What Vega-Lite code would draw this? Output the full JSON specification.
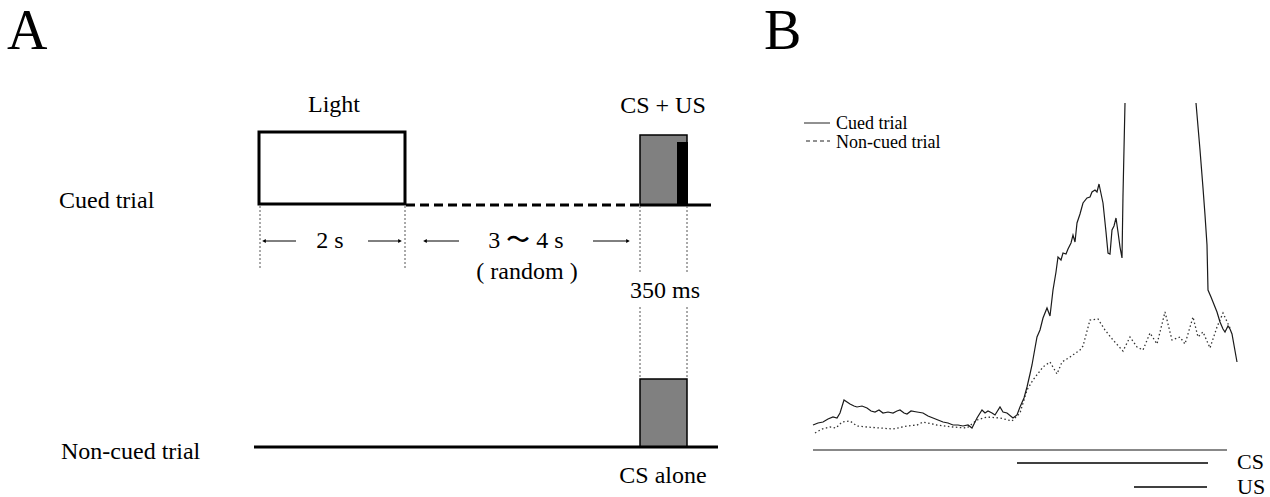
{
  "$schema": "https://vega.github.io/schema/vega-lite/v6.json",
  "width": 1270,
  "height": 497,
  "padding": 0,
  "autosize": {"type": "fit", "contains": "padding"},
  "background": "white",
  "config": {
    "view": {"stroke": null},
    "text": {"font": "Liberation Serif", "color": "black", "baseline": "alphabetic"}
  },
  "datasets": {
    "aRects": [
      {"item": "light", "x": 259, "x2": 405, "y": 132, "y2": 204},
      {"item": "cs", "x": 640, "x2": 687, "y": 135, "y2": 205},
      {"item": "cs", "x": 640, "x2": 687, "y": 379, "y2": 447},
      {"item": "us", "x": 677, "x2": 688, "y": 142, "y2": 205}
    ],
    "aLines": [
      {"kind": "baseline", "x": 640, "x2": 711, "y": 205, "y2": 205},
      {"kind": "baseline", "x": 254, "x2": 718, "y": 447, "y2": 447},
      {"kind": "gap", "x": 406, "x2": 640, "y": 205, "y2": 205},
      {"kind": "guide", "x": 260, "x2": 260, "y": 206, "y2": 268},
      {"kind": "guide", "x": 405, "x2": 405, "y": 206, "y2": 268},
      {"kind": "guide", "x": 640, "x2": 640, "y": 206, "y2": 273},
      {"kind": "guide", "x": 687, "x2": 687, "y": 206, "y2": 273},
      {"kind": "guide", "x": 640, "x2": 640, "y": 307, "y2": 379},
      {"kind": "guide", "x": 687, "x2": 687, "y": 307, "y2": 379},
      {"kind": "arrow", "x": 265, "x2": 296, "y": 241, "y2": 241},
      {"kind": "arrow", "x": 368, "x2": 399, "y": 241, "y2": 241},
      {"kind": "arrow", "x": 426, "x2": 459, "y": 241, "y2": 241},
      {"kind": "arrow", "x": 593, "x2": 627, "y": 241, "y2": 241}
    ],
    "aHeads": [
      {"dir": "left", "x": 264, "y": 241},
      {"dir": "right", "x": 400, "y": 241},
      {"dir": "left", "x": 425, "y": 241},
      {"dir": "right", "x": 628, "y": 241}
    ],
    "aText": [
      {"kind": "panel", "x": 7, "y": 49, "text": "A"},
      {"kind": "panel", "x": 764, "y": 49, "text": "B"},
      {"kind": "row", "x": 59, "y": 208, "text": "Cued trial"},
      {"kind": "row", "x": 61, "y": 459, "text": "Non-cued trial"},
      {"kind": "note", "x": 334, "y": 112, "text": "Light"},
      {"kind": "note", "x": 663, "y": 113, "text": "CS + US"},
      {"kind": "note", "x": 330, "y": 248, "text": "2 s"},
      {"kind": "note", "x": 526, "y": 248, "text": "3 〜 4 s"},
      {"kind": "note", "x": 527, "y": 279, "text": "( random )"},
      {"kind": "note", "x": 665, "y": 298, "text": "350 ms"},
      {"kind": "note", "x": 663, "y": 483, "text": "CS alone"}
    ],
    "traces": [
      {"trial": "Cued trial", "seg": 1, "t": -204, "a": 25},
      {"trial": "Cued trial", "seg": 1, "t": -199, "a": 27},
      {"trial": "Cued trial", "seg": 1, "t": -194, "a": 28},
      {"trial": "Cued trial", "seg": 1, "t": -189, "a": 31},
      {"trial": "Cued trial", "seg": 1, "t": -184, "a": 33},
      {"trial": "Cued trial", "seg": 1, "t": -180, "a": 32},
      {"trial": "Cued trial", "seg": 1, "t": -177, "a": 37},
      {"trial": "Cued trial", "seg": 1, "t": -173, "a": 50},
      {"trial": "Cued trial", "seg": 1, "t": -167, "a": 46},
      {"trial": "Cued trial", "seg": 1, "t": -163, "a": 44},
      {"trial": "Cued trial", "seg": 1, "t": -160, "a": 43},
      {"trial": "Cued trial", "seg": 1, "t": -155, "a": 44},
      {"trial": "Cued trial", "seg": 1, "t": -150, "a": 42},
      {"trial": "Cued trial", "seg": 1, "t": -146, "a": 39},
      {"trial": "Cued trial", "seg": 1, "t": -142, "a": 38},
      {"trial": "Cued trial", "seg": 1, "t": -138, "a": 40},
      {"trial": "Cued trial", "seg": 1, "t": -134, "a": 37},
      {"trial": "Cued trial", "seg": 1, "t": -129, "a": 38},
      {"trial": "Cued trial", "seg": 1, "t": -124, "a": 37},
      {"trial": "Cued trial", "seg": 1, "t": -120, "a": 39},
      {"trial": "Cued trial", "seg": 1, "t": -117, "a": 40},
      {"trial": "Cued trial", "seg": 1, "t": -113, "a": 37},
      {"trial": "Cued trial", "seg": 1, "t": -110, "a": 36},
      {"trial": "Cued trial", "seg": 1, "t": -106, "a": 39},
      {"trial": "Cued trial", "seg": 1, "t": -100, "a": 38},
      {"trial": "Cued trial", "seg": 1, "t": -94, "a": 37},
      {"trial": "Cued trial", "seg": 1, "t": -89, "a": 34},
      {"trial": "Cued trial", "seg": 1, "t": -84, "a": 32},
      {"trial": "Cued trial", "seg": 1, "t": -79, "a": 30},
      {"trial": "Cued trial", "seg": 1, "t": -74, "a": 28},
      {"trial": "Cued trial", "seg": 1, "t": -69, "a": 27},
      {"trial": "Cued trial", "seg": 1, "t": -64, "a": 25},
      {"trial": "Cued trial", "seg": 1, "t": -59, "a": 25},
      {"trial": "Cued trial", "seg": 1, "t": -54, "a": 24},
      {"trial": "Cued trial", "seg": 1, "t": -49, "a": 25},
      {"trial": "Cued trial", "seg": 1, "t": -45, "a": 22},
      {"trial": "Cued trial", "seg": 1, "t": -40, "a": 32},
      {"trial": "Cued trial", "seg": 1, "t": -35, "a": 40},
      {"trial": "Cued trial", "seg": 1, "t": -32, "a": 37},
      {"trial": "Cued trial", "seg": 1, "t": -29, "a": 39},
      {"trial": "Cued trial", "seg": 1, "t": -25, "a": 37},
      {"trial": "Cued trial", "seg": 1, "t": -22, "a": 35},
      {"trial": "Cued trial", "seg": 1, "t": -17, "a": 43},
      {"trial": "Cued trial", "seg": 1, "t": -14, "a": 38},
      {"trial": "Cued trial", "seg": 1, "t": -10, "a": 37},
      {"trial": "Cued trial", "seg": 1, "t": -4, "a": 32},
      {"trial": "Cued trial", "seg": 1, "t": 0, "a": 35},
      {"trial": "Cued trial", "seg": 1, "t": 3, "a": 43},
      {"trial": "Cued trial", "seg": 1, "t": 7, "a": 52},
      {"trial": "Cued trial", "seg": 1, "t": 10, "a": 63},
      {"trial": "Cued trial", "seg": 1, "t": 13, "a": 76},
      {"trial": "Cued trial", "seg": 1, "t": 15, "a": 85},
      {"trial": "Cued trial", "seg": 1, "t": 18, "a": 102},
      {"trial": "Cued trial", "seg": 1, "t": 20, "a": 113},
      {"trial": "Cued trial", "seg": 1, "t": 23, "a": 120},
      {"trial": "Cued trial", "seg": 1, "t": 26, "a": 132},
      {"trial": "Cued trial", "seg": 1, "t": 30, "a": 142},
      {"trial": "Cued trial", "seg": 1, "t": 33, "a": 134},
      {"trial": "Cued trial", "seg": 1, "t": 36, "a": 160},
      {"trial": "Cued trial", "seg": 1, "t": 39, "a": 178},
      {"trial": "Cued trial", "seg": 1, "t": 41, "a": 193},
      {"trial": "Cued trial", "seg": 1, "t": 44, "a": 190},
      {"trial": "Cued trial", "seg": 1, "t": 46, "a": 197},
      {"trial": "Cued trial", "seg": 1, "t": 49, "a": 196},
      {"trial": "Cued trial", "seg": 1, "t": 51, "a": 201},
      {"trial": "Cued trial", "seg": 1, "t": 54, "a": 207},
      {"trial": "Cued trial", "seg": 1, "t": 56, "a": 215},
      {"trial": "Cued trial", "seg": 1, "t": 58, "a": 208},
      {"trial": "Cued trial", "seg": 1, "t": 60, "a": 227},
      {"trial": "Cued trial", "seg": 1, "t": 63, "a": 236},
      {"trial": "Cued trial", "seg": 1, "t": 66, "a": 247},
      {"trial": "Cued trial", "seg": 1, "t": 70, "a": 252},
      {"trial": "Cued trial", "seg": 1, "t": 73, "a": 253},
      {"trial": "Cued trial", "seg": 1, "t": 75, "a": 258},
      {"trial": "Cued trial", "seg": 1, "t": 78, "a": 260},
      {"trial": "Cued trial", "seg": 1, "t": 80, "a": 258},
      {"trial": "Cued trial", "seg": 1, "t": 82, "a": 266},
      {"trial": "Cued trial", "seg": 1, "t": 86, "a": 247},
      {"trial": "Cued trial", "seg": 1, "t": 89, "a": 218},
      {"trial": "Cued trial", "seg": 1, "t": 91, "a": 197},
      {"trial": "Cued trial", "seg": 1, "t": 93, "a": 196},
      {"trial": "Cued trial", "seg": 1, "t": 95, "a": 220},
      {"trial": "Cued trial", "seg": 1, "t": 97, "a": 224},
      {"trial": "Cued trial", "seg": 1, "t": 99, "a": 232},
      {"trial": "Cued trial", "seg": 1, "t": 101, "a": 218},
      {"trial": "Cued trial", "seg": 1, "t": 103, "a": 203},
      {"trial": "Cued trial", "seg": 1, "t": 105, "a": 192},
      {"trial": "Cued trial", "seg": 1, "t": 106, "a": 255},
      {"trial": "Cued trial", "seg": 1, "t": 108, "a": 347},
      {"trial": "Cued trial", "seg": 2, "t": 179, "a": 347},
      {"trial": "Cued trial", "seg": 2, "t": 183, "a": 300},
      {"trial": "Cued trial", "seg": 2, "t": 186, "a": 262},
      {"trial": "Cued trial", "seg": 2, "t": 188, "a": 235},
      {"trial": "Cued trial", "seg": 2, "t": 190, "a": 205},
      {"trial": "Cued trial", "seg": 2, "t": 191, "a": 160},
      {"trial": "Cued trial", "seg": 2, "t": 194, "a": 153},
      {"trial": "Cued trial", "seg": 2, "t": 196, "a": 148},
      {"trial": "Cued trial", "seg": 2, "t": 200, "a": 138},
      {"trial": "Cued trial", "seg": 2, "t": 203, "a": 128},
      {"trial": "Cued trial", "seg": 2, "t": 206, "a": 121},
      {"trial": "Cued trial", "seg": 2, "t": 208, "a": 118},
      {"trial": "Cued trial", "seg": 2, "t": 211, "a": 124},
      {"trial": "Cued trial", "seg": 2, "t": 213, "a": 121},
      {"trial": "Cued trial", "seg": 2, "t": 215, "a": 116},
      {"trial": "Cued trial", "seg": 2, "t": 220, "a": 88},
      {"trial": "Non-cued trial", "seg": 3, "t": -202, "a": 17},
      {"trial": "Non-cued trial", "seg": 3, "t": -195, "a": 21},
      {"trial": "Non-cued trial", "seg": 3, "t": -187, "a": 23},
      {"trial": "Non-cued trial", "seg": 3, "t": -181, "a": 22},
      {"trial": "Non-cued trial", "seg": 3, "t": -175, "a": 28},
      {"trial": "Non-cued trial", "seg": 3, "t": -167, "a": 29},
      {"trial": "Non-cued trial", "seg": 3, "t": -160, "a": 24},
      {"trial": "Non-cued trial", "seg": 3, "t": -150, "a": 23},
      {"trial": "Non-cued trial", "seg": 3, "t": -137, "a": 22},
      {"trial": "Non-cued trial", "seg": 3, "t": -124, "a": 21},
      {"trial": "Non-cued trial", "seg": 3, "t": -110, "a": 24},
      {"trial": "Non-cued trial", "seg": 3, "t": -100, "a": 25},
      {"trial": "Non-cued trial", "seg": 3, "t": -94, "a": 28},
      {"trial": "Non-cued trial", "seg": 3, "t": -80, "a": 25},
      {"trial": "Non-cued trial", "seg": 3, "t": -64, "a": 23},
      {"trial": "Non-cued trial", "seg": 3, "t": -50, "a": 22},
      {"trial": "Non-cued trial", "seg": 3, "t": -40, "a": 30},
      {"trial": "Non-cued trial", "seg": 3, "t": -30, "a": 33},
      {"trial": "Non-cued trial", "seg": 3, "t": -17, "a": 32},
      {"trial": "Non-cued trial", "seg": 3, "t": -5, "a": 29},
      {"trial": "Non-cued trial", "seg": 3, "t": 3, "a": 37},
      {"trial": "Non-cued trial", "seg": 3, "t": 10, "a": 60},
      {"trial": "Non-cued trial", "seg": 3, "t": 16, "a": 70},
      {"trial": "Non-cued trial", "seg": 3, "t": 26, "a": 83},
      {"trial": "Non-cued trial", "seg": 3, "t": 33, "a": 88},
      {"trial": "Non-cued trial", "seg": 3, "t": 40, "a": 76},
      {"trial": "Non-cued trial", "seg": 3, "t": 45, "a": 88},
      {"trial": "Non-cued trial", "seg": 3, "t": 53, "a": 93},
      {"trial": "Non-cued trial", "seg": 3, "t": 63, "a": 100},
      {"trial": "Non-cued trial", "seg": 3, "t": 66, "a": 104},
      {"trial": "Non-cued trial", "seg": 3, "t": 73, "a": 130},
      {"trial": "Non-cued trial", "seg": 3, "t": 81, "a": 131},
      {"trial": "Non-cued trial", "seg": 3, "t": 88, "a": 120},
      {"trial": "Non-cued trial", "seg": 3, "t": 96, "a": 110},
      {"trial": "Non-cued trial", "seg": 3, "t": 106, "a": 99},
      {"trial": "Non-cued trial", "seg": 3, "t": 113, "a": 113},
      {"trial": "Non-cued trial", "seg": 3, "t": 120, "a": 103},
      {"trial": "Non-cued trial", "seg": 3, "t": 126, "a": 100},
      {"trial": "Non-cued trial", "seg": 3, "t": 133, "a": 117},
      {"trial": "Non-cued trial", "seg": 3, "t": 140, "a": 106},
      {"trial": "Non-cued trial", "seg": 3, "t": 148, "a": 138},
      {"trial": "Non-cued trial", "seg": 3, "t": 155, "a": 110},
      {"trial": "Non-cued trial", "seg": 3, "t": 163, "a": 113},
      {"trial": "Non-cued trial", "seg": 3, "t": 168, "a": 106},
      {"trial": "Non-cued trial", "seg": 3, "t": 176, "a": 133},
      {"trial": "Non-cued trial", "seg": 3, "t": 181, "a": 113},
      {"trial": "Non-cued trial", "seg": 3, "t": 186, "a": 118},
      {"trial": "Non-cued trial", "seg": 3, "t": 193, "a": 102},
      {"trial": "Non-cued trial", "seg": 3, "t": 200, "a": 123},
      {"trial": "Non-cued trial", "seg": 3, "t": 206, "a": 137},
      {"trial": "Non-cued trial", "seg": 3, "t": 213, "a": 122}
    ],
    "bRules": [
      {"kind": "legendSolid", "t": -213, "t2": -187, "a": 327},
      {"kind": "legendDash", "t": -211, "t2": -187, "a": 309},
      {"kind": "base", "t": -204, "t2": 210, "a": 0},
      {"kind": "stim", "t": 0, "t2": 191, "a": -13},
      {"kind": "stim", "t": 117, "t2": 190, "a": -37}
    ],
    "bText": [
      {"kind": "legend", "t": -181, "a": 321, "text": "Cued trial"},
      {"kind": "legend", "t": -181, "a": 302, "text": "Non-cued trial"},
      {"kind": "stim", "t": 220, "a": -19, "text": "CS"},
      {"kind": "stim", "t": 220, "a": -44, "text": "US"}
    ]
  },
  "layer": [
    {
      "encoding": {
        "x": {"field": "x", "type": "quantitative", "scale": {"domain": [0, 1270], "range": [0, 1270]}, "axis": null},
        "y": {"field": "y", "type": "quantitative", "scale": {"domain": [0, 497], "range": [0, 497]}, "axis": null}
      },
      "layer": [
        {
          "data": {"name": "aRects"},
          "transform": [{"filter": "datum.item === 'light'"}],
          "mark": {"type": "rect", "fill": "white", "stroke": "black", "strokeWidth": 3},
          "encoding": {"x2": {"field": "x2"}, "y2": {"field": "y2"}}
        },
        {
          "data": {"name": "aRects"},
          "transform": [{"filter": "datum.item === 'cs'"}],
          "mark": {"type": "rect", "fill": "#808080", "stroke": "black", "strokeWidth": 1.5},
          "encoding": {"x2": {"field": "x2"}, "y2": {"field": "y2"}}
        },
        {
          "data": {"name": "aRects"},
          "transform": [{"filter": "datum.item === 'us'"}],
          "mark": {"type": "rect", "fill": "black"},
          "encoding": {"x2": {"field": "x2"}, "y2": {"field": "y2"}}
        },
        {
          "data": {"name": "aLines"},
          "transform": [{"filter": "datum.kind === 'baseline'"}],
          "mark": {"type": "rule", "color": "black", "strokeWidth": 3},
          "encoding": {"x2": {"field": "x2"}, "y2": {"field": "y2"}}
        },
        {
          "data": {"name": "aLines"},
          "transform": [{"filter": "datum.kind === 'gap'"}],
          "mark": {"type": "rule", "color": "black", "strokeWidth": 3, "strokeDash": [9, 5]},
          "encoding": {"x2": {"field": "x2"}, "y2": {"field": "y2"}}
        },
        {
          "data": {"name": "aLines"},
          "transform": [{"filter": "datum.kind === 'guide'"}],
          "mark": {"type": "rule", "color": "#555", "strokeWidth": 1, "strokeDash": [2, 2]},
          "encoding": {"x2": {"field": "x2"}, "y2": {"field": "y2"}}
        },
        {
          "data": {"name": "aLines"},
          "transform": [{"filter": "datum.kind === 'arrow'"}],
          "mark": {"type": "rule", "color": "black", "strokeWidth": 1},
          "encoding": {"x2": {"field": "x2"}, "y2": {"field": "y2"}}
        },
        {
          "data": {"name": "aHeads"},
          "mark": {"type": "point", "filled": true, "color": "black", "size": 18, "opacity": 1},
          "encoding": {
            "shape": {"field": "dir", "type": "nominal", "scale": {"domain": ["left", "right"], "range": ["triangle-left", "triangle-right"]}, "legend": null}
          }
        },
        {
          "data": {"name": "aText"},
          "transform": [{"filter": "datum.kind === 'panel'"}],
          "mark": {"type": "text", "fontSize": 56, "align": "left"},
          "encoding": {"text": {"field": "text"}}
        },
        {
          "data": {"name": "aText"},
          "transform": [{"filter": "datum.kind === 'row'"}],
          "mark": {"type": "text", "fontSize": 24, "align": "left"},
          "encoding": {"text": {"field": "text"}}
        },
        {
          "data": {"name": "aText"},
          "transform": [{"filter": "datum.kind === 'note'"}],
          "mark": {"type": "text", "fontSize": 24, "align": "center"},
          "encoding": {"text": {"field": "text"}}
        }
      ]
    },
    {
      "encoding": {
        "x": {"field": "t", "type": "quantitative", "scale": {"domain": [-250, 250], "range": [767, 1267]}, "axis": null},
        "y": {"field": "a", "type": "quantitative", "scale": {"domain": [-50, 350], "range": [500, 100]}, "axis": null}
      },
      "layer": [
        {
          "data": {"name": "traces"},
          "transform": [{"filter": "datum.trial === 'Non-cued trial'"}],
          "mark": {"type": "line", "color": "#333", "strokeWidth": 1.3, "strokeDash": [1.5, 2.5]},
          "encoding": {"detail": {"field": "seg"}}
        },
        {
          "data": {"name": "traces"},
          "transform": [{"filter": "datum.trial === 'Cued trial'"}],
          "mark": {"type": "line", "color": "#1a1a1a", "strokeWidth": 1.2},
          "encoding": {"detail": {"field": "seg"}}
        },
        {
          "data": {"name": "bRules"},
          "transform": [{"filter": "datum.kind === 'legendSolid'"}],
          "mark": {"type": "rule", "color": "#222", "strokeWidth": 1},
          "encoding": {"x2": {"field": "t2"}}
        },
        {
          "data": {"name": "bRules"},
          "transform": [{"filter": "datum.kind === 'legendDash'"}],
          "mark": {"type": "rule", "color": "#222", "strokeWidth": 1, "strokeDash": [4, 3]},
          "encoding": {"x2": {"field": "t2"}}
        },
        {
          "data": {"name": "bRules"},
          "transform": [{"filter": "datum.kind === 'base'"}],
          "mark": {"type": "rule", "color": "#888", "strokeWidth": 2},
          "encoding": {"x2": {"field": "t2"}}
        },
        {
          "data": {"name": "bRules"},
          "transform": [{"filter": "datum.kind === 'stim'"}],
          "mark": {"type": "rule", "color": "black", "strokeWidth": 1.5},
          "encoding": {"x2": {"field": "t2"}}
        },
        {
          "data": {"name": "bText"},
          "transform": [{"filter": "datum.kind === 'legend'"}],
          "mark": {"type": "text", "fontSize": 18, "align": "left"},
          "encoding": {"text": {"field": "text"}}
        },
        {
          "data": {"name": "bText"},
          "transform": [{"filter": "datum.kind === 'stim'"}],
          "mark": {"type": "text", "fontSize": 22, "align": "left"},
          "encoding": {"text": {"field": "text"}}
        }
      ]
    }
  ],
  "resolve": {"scale": {"x": "independent", "y": "independent"}}
}
